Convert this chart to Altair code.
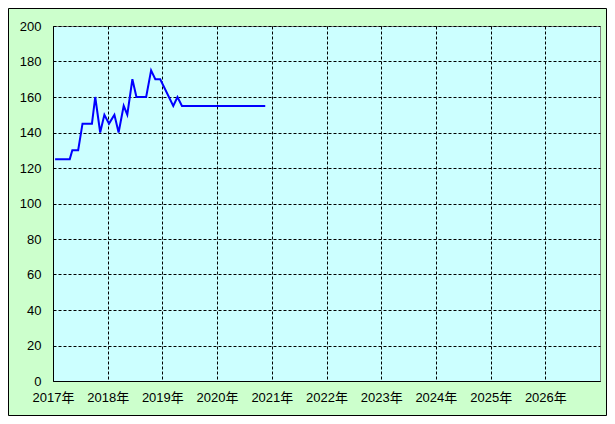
import altair as alt
import pandas as pd

dates = [
    "2017-01-15", "2017-04-23", "2017-05-10", "2017-06-18", "2017-07-17",
    "2017-09-18", "2017-10-10", "2017-11-12", "2017-12-10", "2018-01-10",
    "2018-02-15", "2018-03-15", "2018-04-18", "2018-05-12", "2018-06-15",
    "2018-07-12", "2018-09-15", "2018-10-18", "2018-11-15", "2018-12-18",
    "2019-03-15", "2019-04-12", "2019-05-12", "2020-11-18",
]
values = [
    125, 125, 130, 130, 145,
    145, 160, 140, 150, 145,
    150, 140, 155, 150, 170,
    160, 160, 175, 170, 170,
    155, 160, 155, 155,
]
years = list(range(2017, 2027))
y_ticks = list(range(0, 201, 20))

df = pd.DataFrame({"date": dates, "value": values})

year_vals = [alt.DateTime(year=y, month=1, date=1, utc=True) for y in years]

line = alt.Chart(df).mark_line(color="#0000ff", strokeWidth=2).encode(
    x=alt.X(
        "date:T",
        scale=alt.Scale(
            type="utc",
            domain=[alt.DateTime(year=2017, month=1, date=1, utc=True),
                    alt.DateTime(year=2027, month=1, date=1, utc=True)],
        ),
        axis=alt.Axis(values=year_vals, format="%Y年", title=None, labelPadding=10,
                      labelAlign="center", labelOverlap=False, labelFlush=False,
                      labelBound=False),
    ),
    y=alt.Y(
        "value:Q",
        scale=alt.Scale(domain=[0, 200]),
        axis=alt.Axis(values=y_ticks, title=None, labelPadding=12),
    ),
)

border = alt.Chart(pd.DataFrame({"a": [0]})).mark_rect(
    filled=False, stroke="black", strokeWidth=1
).encode(
    x=alt.value(-44.5), x2=alt.value(553.5),
    y=alt.value(-17.5), y2=alt.value(389.5),
)

chart = alt.layer(border, line).properties(
    width=547,
    height=355,
    padding={"left": 45, "top": 18, "right": 7, "bottom": 35},
    autosize=alt.AutoSizeParams(type="none"),
    background="#ccffcc",
).configure_view(
    fill="#ccffff", stroke="#808080", strokeWidth=1
).configure_axis(
    domainColor="black",
    domainWidth=1,
    grid=True,
    gridColor="black",
    gridDash=[3, 2],
    gridOpacity=1,
    gridWidth=1,
    ticks=False,
    labelFont="Liberation Sans, Noto Sans CJK JP",
    labelFontSize=13,
    labelColor="black",
)

chart.save("out.html", embed_options={"renderer": "svg", "actions": False})
